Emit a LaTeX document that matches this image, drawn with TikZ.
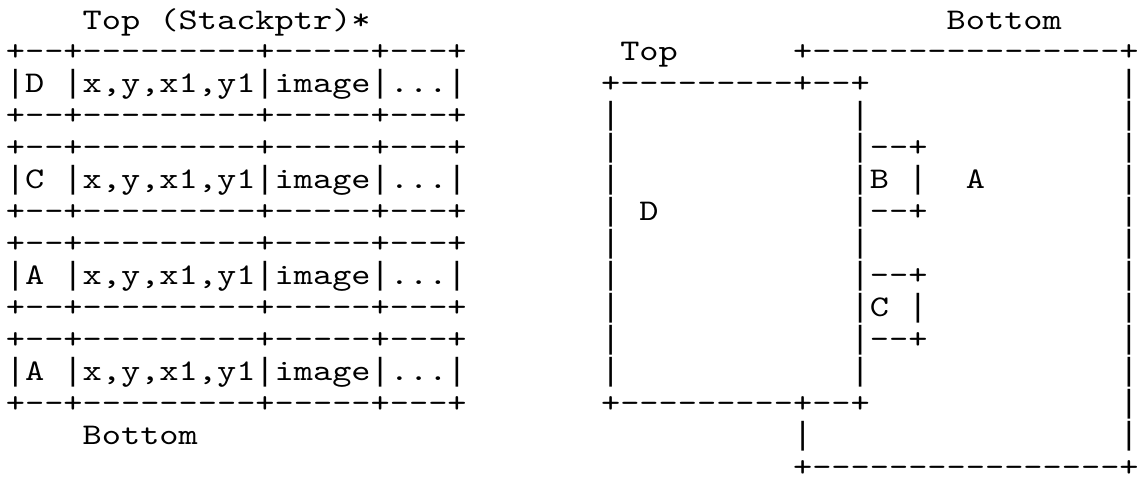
\documentclass[tikz,border=0pt]{standalone}
\usepackage{fontspec}
\newfontfamily\asciifont{lmmono10-regular.otf}[FakeStretch=1.219, Ligatures=TeXOff]
\newfontfamily\pipefont{Liberation Mono}
\newcommand\pipe{{\pipefont\fontsize{16pt}{16pt}\selectfont|}}
\tikzset{
    x=9.6pt, y=-15.985pt,
    ascii/.style={anchor=base west, inner sep=0pt, outer sep=0pt,
        font=\asciifont\fontsize{15pt}{15pt}\selectfont}
}
\begin{document}
\begin{tikzpicture}
    \useasboundingbox (-0.307,-0.907) rectangle (59.07,14.013);
    % stack table
    \node (stacktop) at (4,0) [ascii] {Top (Stackptr)*};
    \node (stackbot) at (4,13) [ascii] {Bottom};
    \foreach \r in {1,3,4,6,7,9,10,12}
        \node (rule\r) at (0,\r) [ascii] {+--+---------+-----+---+};
    \foreach \r/\k in {2/D,5/C,8/A,11/A}
        \node (cell\r) at (0,\r) [ascii] {\pipe\k{} \pipe x,y,x1,y1\pipe image\pipe...\pipe};

    % windows
    \node (wtop) at (32,1) [ascii] {Top};
    \node (wbot) at (49,0) [ascii] {Bottom};
    \node (atop) at (41,1) [ascii] {+----------------+};
    \node (abot) at (41,14) [ascii] {+----------------+};
    \node (aleft) at (41,13) [ascii] {\pipe};
    \foreach \r in {2,...,13}
        \node (aright\r) at (58,\r) [ascii] {\pipe};
    \node (dtop) at (31,2) [ascii] {+---------+--+};
    \node (dbot) at (31,12) [ascii] {+---------+--+};
		\foreach \r in {3,...,11}{
        \node (dleft\r) at (31,\r) [ascii] {\pipe};
        \node (dright\r) at (44,\r) [ascii] {\pipe};
    }
    \node (btop) at (45,4) [ascii] {--+};
    \node (bbot) at (45,6) [ascii] {--+};
    \node (bside) at (47,5) [ascii] {\pipe};
    \node (ctop) at (45,8) [ascii] {--+};
    \node (cbot) at (45,10) [ascii] {--+};
    \node (cside) at (47,9) [ascii] {\pipe};
    \node (blab) at (45,5) [ascii] {B};
    \node (clab) at (45,9) [ascii] {C};
    \node (alab) at (50,5) [ascii] {A};
    \node (dlab) at (33,6) [ascii] {D};
\end{tikzpicture}
\end{document}
